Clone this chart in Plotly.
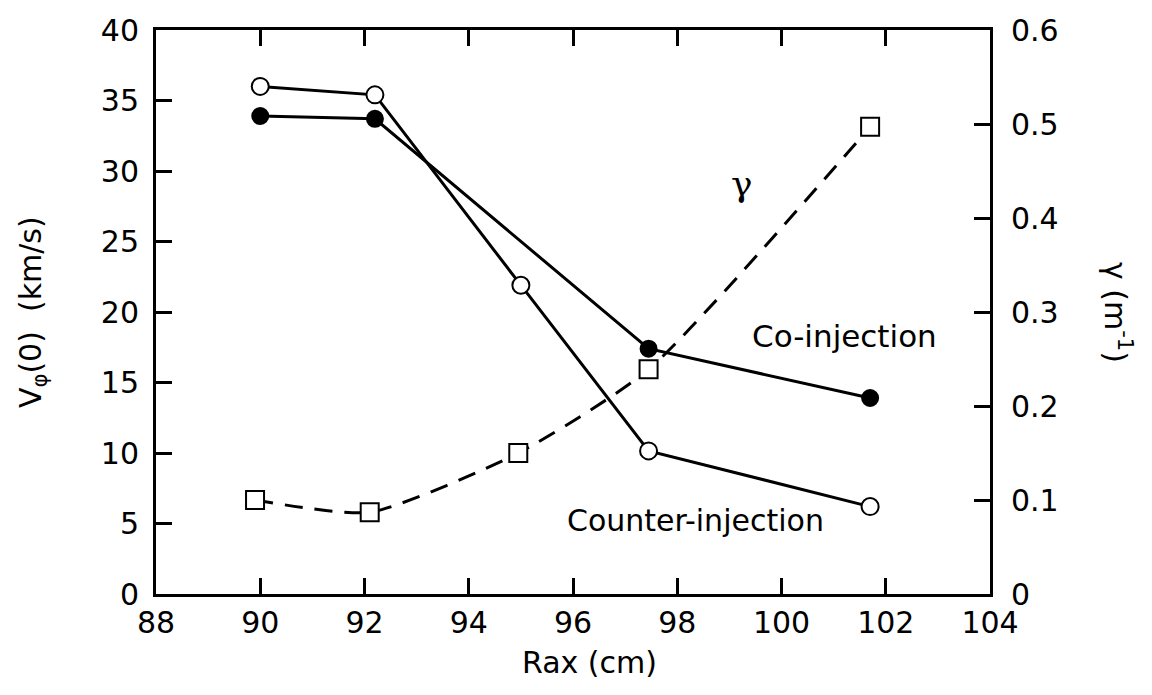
import plotly.graph_objects as go

# Data
rax_counter = [90.0, 92.2, 95.0, 97.45, 101.7]
v_counter = [36.0, 35.4, 21.9, 10.15, 6.2]

rax_co = [90.0, 92.2, 97.45, 101.7]
v_co = [33.9, 33.7, 17.4, 13.9]

rax_gamma = [89.9, 92.1, 94.95, 97.45, 101.7]
gamma = [0.100, 0.087, 0.150, 0.239, 0.497]

x_ticks = [88, 90, 92, 94, 96, 98, 100, 102, 104]
y_ticks = [0, 5, 10, 15, 20, 25, 30, 35, 40]
y2_ticks = [0, 0.1, 0.2, 0.3, 0.4, 0.5, 0.6]
y2_labels = ["0", "0.1", "0.2", "0.3", "0.4", "0.5", "0.6"]

FONT = "DejaVu Sans, Liberation Sans, Arial, sans-serif"

fig = go.Figure()

fig.add_trace(go.Scatter(
    x=rax_gamma, y=gamma, yaxis="y2", mode="lines+markers",
    line=dict(color="black", width=3, dash="18px,12px", shape="spline", smoothing=0.6),
    marker=dict(symbol="square", size=18, color="white", line=dict(color="black", width=2)),
    showlegend=False))

fig.add_trace(go.Scatter(
    x=rax_co, y=v_co, mode="lines+markers",
    line=dict(color="black", width=3),
    marker=dict(symbol="circle", size=16, color="black", line=dict(color="black", width=2)),
    showlegend=False))

fig.add_trace(go.Scatter(
    x=rax_counter, y=v_counter, mode="lines+markers",
    line=dict(color="black", width=3),
    marker=dict(symbol="circle", size=17, color="white", line=dict(color="black", width=2)),
    showlegend=False))

fig.add_annotation(x=101.2, y=18.3, text="Co-injection", showarrow=False,
                   font=dict(size=31, color="black", family=FONT))
fig.add_annotation(x=98.35, y=5.2, text="Counter-injection", showarrow=False,
                   font=dict(size=30, color="black", family=FONT))
fig.add_annotation(x=99.25, y=0.437, yref="y2", text="γ", showarrow=False,
                   font=dict(size=36, color="black", family="DejaVu Serif, serif"))
# right axis title (reads top to bottom)
fig.add_annotation(xref="paper", yref="paper", x=1.0, xshift=128, y=0.5,
                   xanchor="center", yanchor="middle",
                   text="γ (m<sup>-1</sup>)", textangle=90, showarrow=False,
                   font=dict(size=30, color="black", family=FONT))
# left axis title
fig.add_annotation(xref="paper", yref="paper", x=0.0, xshift=-124, y=0.5,
                   xanchor="center", yanchor="middle",
                   text="V<sub>φ</sub>(0)  (km/s)", textangle=-90, showarrow=False,
                   font=dict(size=30, color="black", family=FONT))
# x axis title
fig.add_annotation(xref="paper", yref="paper", x=0.52, y=0.0, yshift=-68,
                   xanchor="center", yanchor="middle",
                   text="Rax (cm)", showarrow=False,
                   font=dict(size=30, color="black", family=FONT))

axis_common = dict(showline=True, linecolor="black", linewidth=3, ticks="inside",
                   ticklen=16, tickwidth=3, tickcolor="black", showgrid=False,
                   zeroline=False, tickfont=dict(size=30, color="black", family=FONT))

fig.update_layout(
    width=1152, height=695,
    margin=dict(l=156, r=162, t=27, b=101),
    paper_bgcolor="white", plot_bgcolor="white",
    xaxis=dict(range=[88, 104], tickvals=x_ticks, mirror="ticks", **axis_common),
    yaxis=dict(range=[0, 40], tickvals=y_ticks, ticklabelstandoff=8, **axis_common),
    yaxis2=dict(range=[0, 0.6], tickvals=y2_ticks, ticktext=y2_labels,
                overlaying="y", side="right", ticklabelstandoff=12, **axis_common),
)

fig.write_html("out.html")
